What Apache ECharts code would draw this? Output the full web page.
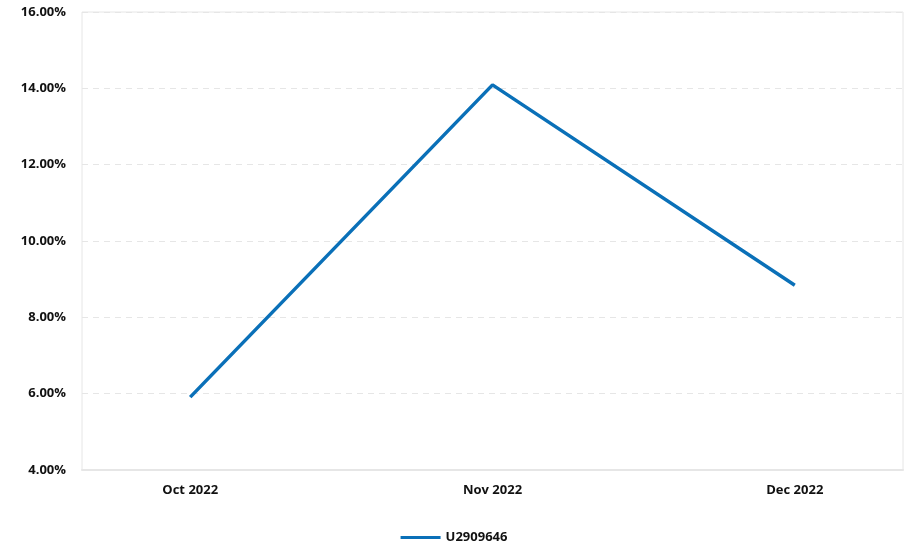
<!DOCTYPE html>
<html><head><meta charset="utf-8">
<script src="https://cdn.jsdelivr.net/npm/echarts@6/dist/echarts.min.js"></script>
<style>html,body{margin:0;padding:0;background:#fff}#c{width:908px;height:553px}</style>
</head><body><div id="c"></div>
<script>
const categories = ["Oct 2022", "Nov 2022", "Dec 2022"];
const seriesName = "U2909646";
const values = [5.91, 14.09, 8.84];
const yTicks = [4, 6, 8, 10, 12, 14, 16];

const chart = echarts.init(document.getElementById('c'));
const font = "'Open Sans', 'Noto Sans', sans-serif";
chart.setOption({
  animation: false,
  grid: {left: 82, right: 5, top: 12, bottom: 83, show: true, borderColor: '#e6e6e6', borderWidth: 1},
  legend: {
    bottom: 4, left: 'center', itemWidth: 40, itemHeight: 3,
    icon: 'rect',
    textStyle: {fontFamily: font, fontWeight: 'bold', fontSize: 13, color: '#111'},
    data: [seriesName]
  },
  xAxis: {
    type: 'value', min: -0.358, max: 2.358,
    axisLine: {show: true, lineStyle: {color: '#e6e6e6', width: 2}},
    axisTick: {show: false},
    splitLine: {show: false},
    axisLabel: {
      customValues: categories.map((c, i) => i),
      formatter: v => categories[Math.round(v)] || '',
      fontFamily: font, fontWeight: 'bold', fontSize: 13, color: '#111', margin: 14
    }
  },
  yAxis: {
    type: 'value', min: yTicks[0], max: yTicks[yTicks.length - 1], interval: 2,
    axisLine: {show: false}, axisTick: {show: false},
    splitLine: {show: true, lineStyle: {color: '#e6e6e6', type: [6, 5]}},
    axisLabel: {formatter: v => v.toFixed(2) + '%', fontFamily: font, fontWeight: 'bold', fontSize: 13, color: '#111', margin: 16}
  },
  series: [{
    name: seriesName, type: 'line',
    data: values.map((v, i) => [i, v]),
    showSymbol: false, symbol: 'none',
    lineStyle: {color: '#0a70b8', width: 3.5},
    itemStyle: {color: '#0a70b8'}
  }]
});
</script></body></html>
